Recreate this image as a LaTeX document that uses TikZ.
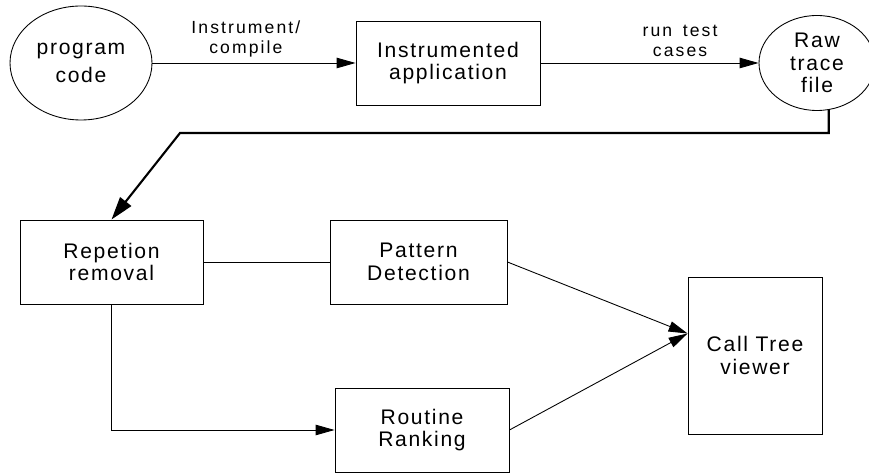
\documentclass[tikz,border=0pt]{standalone}
\usepackage{fontspec}
\setmainfont{Liberation Sans}
\newfontfamily\boxfont[LetterSpace=8]{Liberation Sans}
\newfontfamily\labelfont[LetterSpace=12]{Liberation Sans}
\usetikzlibrary{calc,positioning,arrows.meta,shapes.geometric}

\begin{document}
\begin{tikzpicture}
\tikzset{
    block/.style={
       draw, rectangle,
       line width = 0.5pt,
       minimum height = 1.68cm,
       align = center,
       font = \boxfont\fontsize{12}{13}\selectfont
    },
    blob/.style={
       draw, ellipse,
       line width = 0.5pt,
       inner sep = 0pt,
       align = center,
       font = \boxfont\fontsize{12}{13}\selectfont
    },
    flow/.style={
       -{Triangle[length=0.38cm, width=0.21cm]},
       line width = 0.5pt
    },
    edge label/.style={
       align = center,
       font = \labelfont\fontsize{10}{11.4}\selectfont
    }
}
%
\useasboundingbox (0,0) rectangle (17.38,9.44);

% top row
\node[blob, minimum width=2.84cm, minimum height=2.28cm] (prog) at (1.62,8.18) {program\\[3.4pt]code};
\node[block, minimum width=3.68cm] (instr) at (8.96,8.18) {Instrumented\\application};
\node[blob, minimum width=2.32cm, minimum height=1.90cm] (raw) at (16.34,8.18) {Raw\\trace\\file};

\draw[flow] (prog.east) -- node[edge label, above, pos=0.46] {Instrument/\\compile} (instr.west);
\draw[flow] (instr.east) -- node[edge label, above, pos=0.64] {run\hspace{0.6em}test\\cases} (raw.west);

% analysis steps
\node[block, minimum width=3.66cm] (rep) at (2.23,4.20) {Repetion\\removal};
\node[block, minimum width=3.54cm] (pat) at (8.37,4.20) {Pattern\\Detection};
\node[block, minimum width=3.48cm] (rout) at (8.44,0.84) {Routine\\Ranking};
\node[block, minimum width=2.68cm, minimum height=3.14cm] (call) at (15.10,2.33) {Call Tree\\viewer};

\coordinate (bend) at (3.60,6.78);
\coordinate (tip) at ($(call.west)+(0,0.44)$);

\draw[line width=1.2pt, -{Triangle[length=0.46cm, width=0.28cm]}] (raw.-76) |- (bend) -- (rep.north);
\draw[line width=0.5pt] (rep.east) -- (pat.west);
\draw[flow] (rep.south) |- (rout.west);
\draw[flow] (pat.east) -- (tip);
\draw[flow] (rout.east) -- (tip);
%\draw[help lines] (0,0) grid (17.38,9.44);
\end{tikzpicture}
\end{document}
